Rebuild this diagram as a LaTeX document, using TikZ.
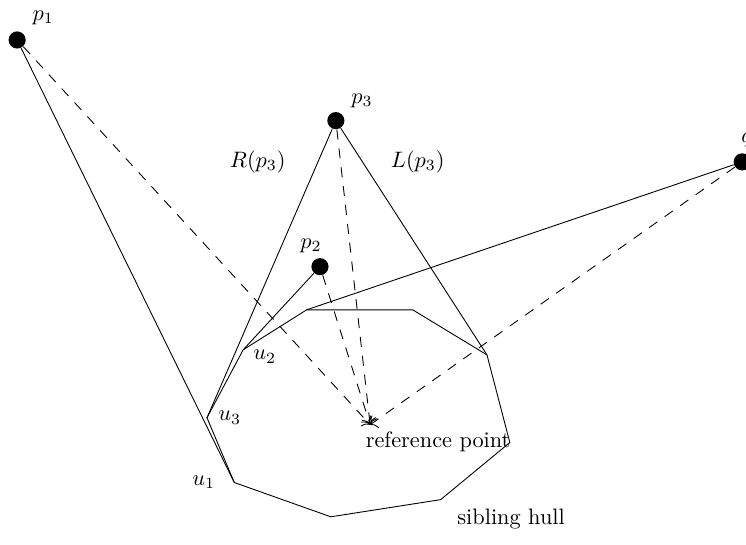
\documentclass[tikz,border=0pt]{standalone}
\usetikzlibrary{positioning,arrows.meta}
\tikzset{dot/.style={circle,fill=black,inner sep=0pt,minimum size=0.27cm},
	toref/.style={dash pattern=on 4.5pt off 4pt,-{To[length=2.5pt,width=7pt]}}}

\begin{document}
\begin{tikzpicture}
	\useasboundingbox (0,0) rectangle (11.75,8.58);
	% hull
	\coordinate (u1) at (3.69,0.98);
	\coordinate (h2) at (5.21,0.44);
	\coordinate (h3) at (6.94,0.71);
	\coordinate (h4) at (8.03,1.61);
	\coordinate (h5) at (7.67,2.99);
	\coordinate (h6) at (6.50,3.70);
	\coordinate (h7) at (4.83,3.70);
	\coordinate (u2) at (3.83,3.07);
	\coordinate (u3) at (3.26,2.00);
	\coordinate (ref) at (5.83,1.89);
	\draw (u1) -- (h2) -- (h3) -- (h4) -- (h5) -- (h6) -- (h7) -- (u2) -- (u3) -- cycle;
	% points
	\node[dot] (p1) at (0.27,7.95){};
	\node[dot] (p2) at (5.04,4.38){};
	\node[dot] (p3) at (5.29,6.68){};
	\node[dot] (q) at (11.69,6.03){};
	% labels
	\node (lp1) at (0.68,8.30){$p_1$};
	\node (lp2) at (4.90,4.71){$p_2$};
	\node (lp3) at (5.70,6.99){$p_3$};
	\node (lq) at (11.76,6.38){$q$};
	\node (lR) at (4.06,6.03){$R(p_3)$};
	\node (lL) at (6.58,6.03){$L(p_3)$};
	\node (lu1) at (3.21,0.98){$u_1$};
	\node (lu2) at (4.17,2.96){$u_2$};
	\node (lu3) at (3.62,2.00){$u_3$};
	\node (lref) at (6.90,1.62){reference point};
	\node (lhull) at (8.05,0.41){sibling hull};
	% tangents
	\draw (p1) -- (u1);
	\draw (p2) -- (u2);
	\draw (p3) -- (u3);
	\draw (p3) -- (h5);
	\draw (q) -- (h7);
	% to reference point
	\draw[toref] (p1) -- (ref);
	\draw[toref] (p2) -- (ref);
	\draw[toref] (p3) -- (ref);
	\draw[toref] (q) -- (ref);
\end{tikzpicture}
\end{document}
